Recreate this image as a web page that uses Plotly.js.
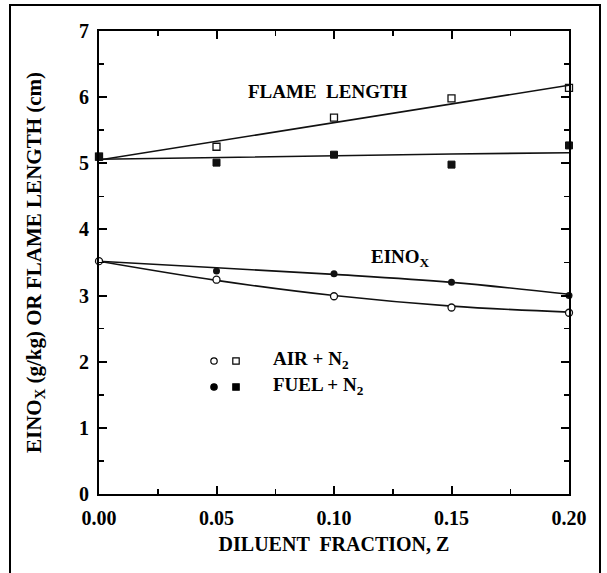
<!DOCTYPE html>
<html>
<head>
<meta charset="utf-8">
<script src="https://cdn.plot.ly/plotly-3.0.1.min.js"></script>
<style>
  html, body { margin: 0; padding: 0; background: #fff; }
  #wrap { position: relative; width: 607px; height: 573px; overflow: hidden; }
  #frame { position: absolute; left: 9px; top: 4px; width: 588px; height: 620px; border: 2px solid #000; pointer-events: none; }
</style>
</head>
<body>
<div id="wrap">
  <div id="chart" style="width:607px;height:573px;"></div>
  <div id="frame"></div>
</div>
<script>
// Diluent fraction Z
const z = [0.00, 0.05, 0.10, 0.15, 0.20];

// Flame length (cm)
const flameAir  = [5.10, 5.25, 5.69, 5.98, 6.14];   // open squares, AIR + N2
const flameFuel = [5.10, 5.01, 5.13, 4.98, 5.27];   // filled squares, FUEL + N2

// EINOx (g/kg)
const einoxAir  = [3.52, 3.24, 2.99, 2.82, 2.74];   // open circles, AIR + N2
const einoxFuel = [3.52, 3.37, 3.33, 3.20, 3.00];   // filled circles, FUEL + N2

// Fitted curves
const fitZ          = [0.00, 0.05, 0.10, 0.15, 0.20];
const fitFlameAir   = [5.05, 5.33, 5.62, 5.90, 6.18];
const fitFlameFuel  = [5.06, 5.09, 5.11, 5.14, 5.16];
const fitEinoxAir   = [3.52, 3.23, 3.00, 2.84, 2.75];
const fitEinoxFuel  = [3.52, 3.42, 3.32, 3.20, 3.02];

const xTicks = [0.00, 0.05, 0.10, 0.15, 0.20];
const xTickText = ["0.00", "0.05", "0.10", "0.15", "0.20"];
const yTicks = [0, 1, 2, 3, 4, 5, 6, 7];

const FONT = "Liberation Serif";

const lineStyle = { color: "#111", width: 1.6 };
const traces = [
  { x: fitZ, y: fitFlameAir,  mode: "lines", line: lineStyle, hoverinfo: "skip" },
  { x: fitZ, y: fitFlameFuel, mode: "lines", line: lineStyle, hoverinfo: "skip" },
  { x: fitZ, y: fitEinoxAir,  mode: "lines", line: Object.assign({shape: "spline"}, lineStyle), hoverinfo: "skip" },
  { x: fitZ, y: fitEinoxFuel, mode: "lines", line: Object.assign({shape: "spline"}, lineStyle), hoverinfo: "skip" },
  { x: z, y: flameFuel, mode: "markers",
    marker: { symbol: "square", size: 7, color: "#111", line: { color: "#111", width: 1 } } },
  { x: z, y: flameAir, mode: "markers",
    marker: { symbol: "square-open", size: 7, color: "#111", line: { width: 1.3 } } },
  { x: z, y: einoxFuel, mode: "markers",
    marker: { symbol: "circle", size: 7, color: "#111" } },
  { x: z, y: einoxAir, mode: "markers",
    marker: { symbol: "circle", size: 7, color: "#fff", line: { color: "#111", width: 1.3 } } }
];
traces.forEach(t => { t.cliponaxis = false; t.showlegend = false; });

const axisCommon = {
  showline: true, linecolor: "#000", linewidth: 2, mirror: "ticks",
  ticks: "inside", ticklen: 8, tickwidth: 2, tickcolor: "#000",
  showgrid: false, zeroline: false,
  tickfont: { family: FONT, size: 20, color: "#000", weight: "bold" }
};

function px(x) { return (x - 99) / 470; }
function py(y) { return (494 - y) / 463; }
function key(type, cx, cy, filled) {
  return {
    type: type, xref: "paper", yref: "paper", xsizemode: "pixel", ysizemode: "pixel",
    xanchor: px(cx), yanchor: py(cy), x0: -3.2, x1: 3.2, y0: -3.2, y1: 3.2,
    line: { color: "#000", width: 1.2 }, fillcolor: filled ? "#000" : "#fff"
  };
}

const layout = {
  width: 607, height: 573,
  margin: { l: 99, r: 38, t: 31, b: 79 },
  paper_bgcolor: "#fff", plot_bgcolor: "#fff",
  showlegend: false,
  font: { family: FONT, color: "#000" },
  xaxis: Object.assign({}, axisCommon, {
    range: [0, 0.2], tickvals: xTicks, ticktext: xTickText,
    ticklabelstandoff: 5,
    minor: { dtick: 0.025, ticks: "inside", ticklen: 5, tickwidth: 1.5, tickcolor: "#000" },
    title: { text: "DILUENT  FRACTION, Z", standoff: 9,
             font: { family: FONT, size: 20, color: "#000", weight: "bold" } }
  }),
  yaxis: Object.assign({}, axisCommon, {
    range: [0, 7], tickvals: yTicks,
    ticklabelstandoff: 4,
    minor: { dtick: 0.5, ticks: "inside", ticklen: 5, tickwidth: 1.5, tickcolor: "#000" },
    title: { text: "EINO<sub>X</sub> (g/kg) OR FLAME LENGTH (cm)", standoff: 32,
             font: { family: FONT, size: 21, color: "#000", weight: "bold" } }
  }),
  shapes: [
    key("circle", 214, 361, false), key("rect", 236, 361, false),
    key("circle", 214, 387, true),  key("rect", 236, 387, true)
  ],
  annotations: [
    { xref: "paper", yref: "paper", x: px(328), y: py(79),
      text: "FLAME  LENGTH", showarrow: false,
      font: { family: FONT, size: 19, color: "#000", weight: "bold" } },
    { xref: "paper", yref: "paper", x: px(400), y: py(258),
      text: "EINO<sub>X</sub>", showarrow: false,
      font: { family: FONT, size: 19, color: "#000", weight: "bold" } },
    { xref: "paper", yref: "paper", x: px(271), y: py(374), xanchor: "left",
      text: "AIR + N<sub>2</sub>", showarrow: false,
      font: { family: FONT, size: 19, color: "#000", weight: "bold" } },
    { xref: "paper", yref: "paper", x: px(271), y: py(400), xanchor: "left",
      text: "FUEL + N<sub>2</sub>", showarrow: false,
      font: { family: FONT, size: 19, color: "#000", weight: "bold" } }
  ]
};

Plotly.newPlot("chart", traces, layout, { staticPlot: true, displayModeBar: false });
</script>
</body>
</html>
